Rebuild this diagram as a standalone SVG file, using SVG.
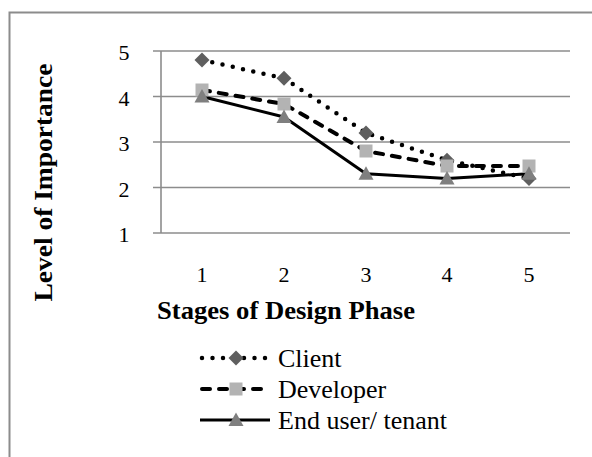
<svg xmlns="http://www.w3.org/2000/svg" width="592" height="457" viewBox="0 0 592 457">
<style>
.grid{stroke:#8c8c8c;stroke-width:1.6;fill:none}
.tick{font-family:'Liberation Serif','Times New Roman',serif;font-size:22px;fill:#000}
.title{font-family:'Liberation Serif','Times New Roman',serif;font-size:25px;font-weight:bold;fill:#000}
.leg{font-family:'Liberation Serif','Times New Roman',serif;font-size:26px;fill:#000}
.client{stroke:#000;stroke-width:4.5;fill:none;stroke-dasharray:0 10.5;stroke-linecap:round;stroke-linejoin:round}
.dev{stroke:#000;stroke-width:4;fill:none;stroke-dasharray:8 9;stroke-linecap:round;stroke-linejoin:round}
.eu{stroke:#000;stroke-width:3;fill:none;stroke-linejoin:round}
.dia{fill:#5f5f5f}
.sq{fill:#b3b3b3}
.tri{fill:#7f7f7f}
</style>
<defs>
<path id="mDia" d="M0,-7.5 L7.5,0 L0,7.5 L-7.5,0 Z"/>
<rect id="mSq" x="-6.5" y="-6.5" width="13" height="13"/>
<path id="mTri" d="M0,-7.5 L7.5,6 L-7.5,6 Z"/>
</defs>
<rect x="9.5" y="12.5" width="620" height="500" fill="#fff" stroke="#8c8c8c" stroke-width="2"/>
<g id="axes">
<line class="grid" x1="153" y1="51" x2="570" y2="51"/>
<line class="grid" x1="153" y1="96.5" x2="570" y2="96.5"/>
<line class="grid" x1="153" y1="142" x2="570" y2="142"/>
<line class="grid" x1="153" y1="187.5" x2="570" y2="187.5"/>
<line class="grid" x1="153" y1="233" x2="570" y2="233"/>
<line class="grid" x1="161" y1="51" x2="161" y2="233"/>
<text class="tick" x="124" y="60" text-anchor="middle">5</text>
<text class="tick" x="124" y="105.5" text-anchor="middle">4</text>
<text class="tick" x="124" y="151" text-anchor="middle">3</text>
<text class="tick" x="124" y="196.5" text-anchor="middle">2</text>
<text class="tick" x="124" y="242" text-anchor="middle">1</text>
<text class="tick" x="202" y="282" text-anchor="middle">1</text>
<text class="tick" x="284" y="282" text-anchor="middle">2</text>
<text class="tick" x="366" y="282" text-anchor="middle">3</text>
<text class="tick" x="447" y="282" text-anchor="middle">4</text>
<text class="tick" x="529" y="282" text-anchor="middle">5</text>
<text class="title" x="157" y="319" textLength="258" lengthAdjust="spacingAndGlyphs">Stages of Design Phase</text>
<text class="title" transform="translate(52,182.5) rotate(-90)" text-anchor="middle" textLength="238" lengthAdjust="spacingAndGlyphs">Level of Importance</text>
</g>
<g id="connectors">
<polyline class="client" points="202,60 284,78.3 366,132.9 447,160.2 529,178.4"/>
<polyline class="dev" points="202,90 284,104 366,151 447,166 529,166"/>
<polyline class="eu" points="202,96.5 284,117 366,173.8 447,178.4 529,173.8"/>
</g>
<g id="series-client">
<use href="#mDia" class="dia" x="202" y="60"/>
<use href="#mDia" class="dia" x="284" y="78.3"/>
<use href="#mDia" class="dia" x="366" y="132.9"/>
<use href="#mDia" class="dia" x="447" y="160.2"/>
<use href="#mDia" class="dia" x="529" y="178.4"/>
</g>
<g id="series-developer">
<use href="#mSq" class="sq" x="202" y="90"/>
<use href="#mSq" class="sq" x="284" y="104"/>
<use href="#mSq" class="sq" x="366" y="151"/>
<use href="#mSq" class="sq" x="447" y="166"/>
<use href="#mSq" class="sq" x="529" y="166"/>
</g>
<g id="series-enduser">
<use href="#mTri" class="tri" x="202" y="96.5"/>
<use href="#mTri" class="tri" x="284" y="117"/>
<use href="#mTri" class="tri" x="366" y="173.8"/>
<use href="#mTri" class="tri" x="447" y="178.4"/>
<use href="#mTri" class="tri" x="529" y="173.8"/>
</g>
<g id="legend">
<g id="legend-client">
<line class="client" x1="202" y1="358" x2="268" y2="358"/>
<use href="#mDia" class="dia" x="236" y="358"/>
<text class="leg" x="278" y="367">Client</text>
</g>
<g id="legend-developer">
<line class="dev" x1="202" y1="389" x2="268" y2="389"/>
<use href="#mSq" class="sq" x="236" y="389"/>
<text class="leg" x="278" y="398">Developer</text>
</g>
<g id="legend-enduser">
<line class="eu" x1="200" y1="420" x2="270" y2="420"/>
<use href="#mTri" class="tri" x="236" y="420"/>
<text class="leg" x="278" y="429">End user/ tenant</text>
</g>
</g>
</svg>
